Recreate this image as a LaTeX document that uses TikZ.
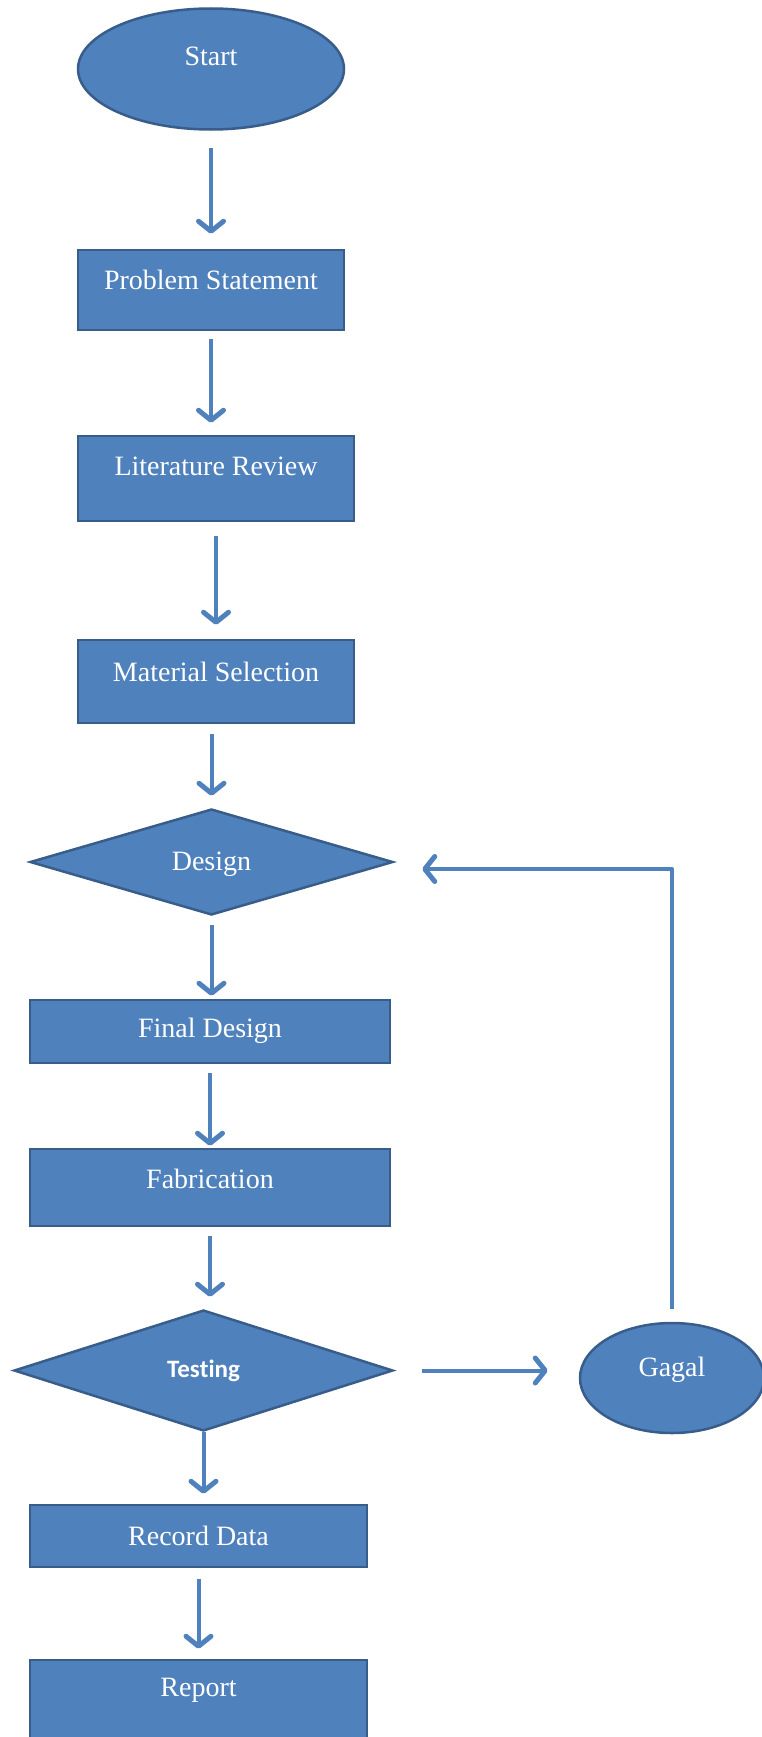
\documentclass[tikz,border=0pt]{standalone}
\usepackage{fontspec}
\setmainfont{Liberation Serif}
\newfontfamily\testfont[Ligatures=NoCommon]{Carlito}
\usetikzlibrary{shapes.geometric,arrows.meta}

\definecolor{boxblue}{HTML}{4F81BD}
\definecolor{edgeblue}{HTML}{385D8A}

\begin{document}
\begin{tikzpicture}[x=1pt, y=-1pt,
    box/.style={rectangle, draw=edgeblue, fill=boxblue, line width=2.5pt, inner sep=0pt},
    oval/.style={ellipse, draw=edgeblue, fill=boxblue, line width=2.5pt, inner sep=0pt},
    choice/.style={diamond, draw=edgeblue, fill=boxblue, line width=2.5pt, inner sep=0pt},
    txt/.style={text=white, font=\fontsize{28}{33}\selectfont},
    flow/.style={draw=boxblue, line width=4pt, line join=round,
        -{Straight Barb[length=10pt, width=25pt, line width=5pt, round]}}]

    \useasboundingbox (0,0) rectangle (762,1737);

    % Shapes
    \node[oval, minimum width=266pt, minimum height=121pt,
          label={[txt, yshift=13pt]center:Start}] (start) at (211,69) {};
    \node[box, minimum width=266pt, minimum height=80pt,
          label={[txt, yshift=10pt]center:Problem Statement}] (problem) at (211,290) {};
    \node[box, minimum width=276pt, minimum height=85pt,
          label={[txt, yshift=12pt]center:Literature Review}] (review) at (216,478.5) {};
    \node[box, minimum width=276pt, minimum height=83pt,
          label={[txt, yshift=10pt]center:Material Selection}] (material) at (216,681.5) {};
    \node[choice, minimum width=363pt, minimum height=106pt,
          label={[txt, yshift=-2pt]center:Design}] (design) at (211.5,862) {};
    \node[box, minimum width=360pt, minimum height=63pt,
          label={[txt, yshift=1pt]center:Final Design}] (final) at (210,1031.5) {};
    \node[box, minimum width=360pt, minimum height=77pt,
          label={[txt, yshift=9pt]center:Fabrication}] (fabrication) at (210,1187.5) {};
    \node[choice, minimum width=379pt, minimum height=121pt,
          label={[text=white, font=\testfont\bfseries\fontsize{25}{30}\selectfont]center:Tes\kern0pt ting}] (testing) at (203.5,1370.5) {};
    \node[oval, minimum width=184pt, minimum height=110pt,
          label={[txt, yshift=8pt]center:Gagal}] (gagal) at (672,1378) {};
    \node[box, minimum width=337pt, minimum height=62pt,
          label={[txt]center:Record Data}] (record) at (198.5,1536) {};
    \node[box, minimum width=337pt, minimum height=84pt,
          label={[txt, yshift=12pt]center:Report}] (report) at (198.5,1702) {};

    % Main flow
    \draw[flow, shorten <=17pt, shorten >=15pt] (start.south) -- (start.south |- problem.north);
    \draw[flow, shorten <=8pt, shorten >=12pt] (problem.south) -- (problem.south |- review.north);
    \draw[flow, shorten <=14pt, shorten >=14pt] (review.south) -- (review.south |- material.north);
    \draw[flow, shorten <=10pt, shorten >=12pt] (design.north |- material.south) -- (design.north);
    \draw[flow, shorten <=9pt, shorten >=3pt] (design.south) -- (design.south |- final.north);
    \draw[flow, shorten <=9pt, shorten >=2pt] (final.south) -- (final.south |- fabrication.north);
    \draw[flow, shorten <=9pt, shorten >=12pt] (fabrication.south) -- (fabrication.south |- testing.north);
    \draw[flow, shorten >=10pt] (testing.south) -- (testing.south |- record.north);
    \draw[flow, shorten <=11pt, shorten >=10pt] (record.south) -- (record.south |- report.north);

    % Failure loop
    \draw[flow, shorten <=28pt, shorten >=31pt] (testing.east) -- (testing.east -| gagal.west);
    \draw[flow, shorten <=13pt, shorten >=28pt] (gagal.north) |- ([yshift=-7pt]design.east);
\end{tikzpicture}
\end{document}
